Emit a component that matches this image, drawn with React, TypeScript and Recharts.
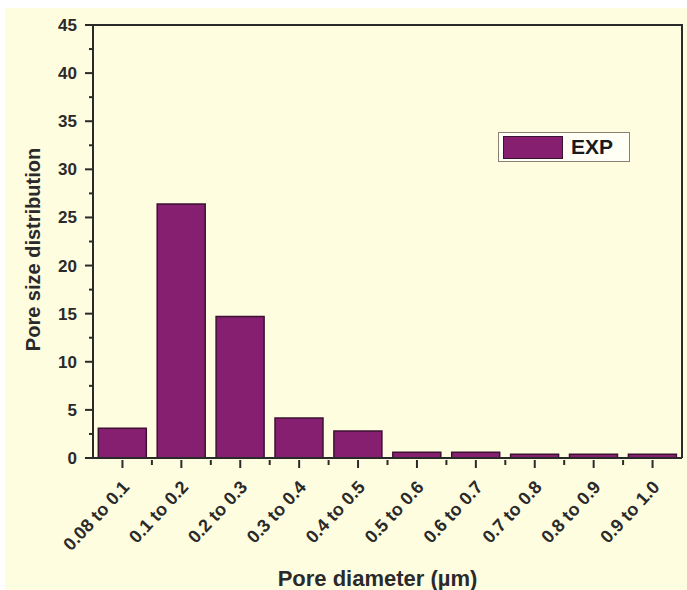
import React from "react"
import { Bar, BarChart, XAxis, YAxis } from "recharts"

const categories = [
  "0.08 to 0.1",
  "0.1 to 0.2",
  "0.2 to 0.3",
  "0.3 to 0.4",
  "0.4 to 0.5",
  "0.5 to 0.6",
  "0.6 to 0.7",
  "0.7 to 0.8",
  "0.8 to 0.9",
  "0.9 to 1.0",
]
const expValues = [3.1, 26.4, 14.7, 4.15, 2.8, 0.6, 0.6, 0.4, 0.4, 0.4]
const yTicks = [0, 2.5, 5, 7.5, 10, 12.5, 15, 17.5, 20, 22.5, 25, 27.5, 30, 32.5, 35, 37.5, 40, 42.5, 45]

const data = categories.map((name, i) => ({ name, EXP: expValues[i] }))

const W = 682
const H = 582
const M = { top: 17, right: 5, bottom: 0, left: 0 }
const X_H = 132
const Y_W = 88
const PLOT_W = W - M.left - M.right - Y_W
const PLOT_H = H - M.top - M.bottom - X_H
const BAND = PLOT_W / categories.length

const FONT = "'Liberation Sans', Arial, sans-serif"
const INK = "#2a2a2a"
const BAR_FILL = "#861f70"
const BAR_STROKE = "#3c1232"
const BG = "#fffde0"

function YTick(props: any) {
  const { x, y, payload } = props
  const major = payload.value % 5 === 0
  return (
    <g>
      <line x1={x} x2={x - (major ? 8 : 4)} y1={y} y2={y} stroke={INK} strokeWidth={2} />
      {major && (
        <text x={x - 16} y={y} dy={6} textAnchor="end" fontFamily={FONT} fontWeight="bold" fontSize={17} fill={INK}>
          {payload.value}
        </text>
      )}
    </g>
  )
}

function XTick(props: any) {
  const { x, y, payload, index } = props
  const tx = x + 8
  const ty = y + 28
  return (
    <g>
      <line x1={x} x2={x} y1={y} y2={y + 8} stroke={INK} strokeWidth={2} />
      {index < categories.length - 1 && (
        <line x1={x + BAND / 2} x2={x + BAND / 2} y1={y} y2={y + 5} stroke={INK} strokeWidth={2} />
      )}
      <text
        x={tx}
        y={ty}
        textAnchor="end"
        transform={`rotate(-47 ${tx} ${ty})`}
        fontFamily={FONT}
        fontWeight="bold"
        fontSize={18}
        fill={INK}
      >
        {payload.value}
      </text>
    </g>
  )
}

function LegendBox() {
  return (
    <div
      style={{
        position: "absolute",
        left: 493,
        top: 124,
        width: 132,
        height: 30,
        border: "1.5px solid #8a7f70",
        background: "#fffff6",
        display: "flex",
        alignItems: "center",
        boxSizing: "border-box",
        padding: "0 4px",
      }}
    >
      <div style={{ width: 58, height: 21, background: BAR_FILL, border: `1px solid ${BAR_STROKE}` }} />
      <span style={{ marginLeft: 8, fontFamily: FONT, fontWeight: "bold", fontSize: 21, color: "#1a1a1a" }}>EXP</span>
    </div>
  )
}

export default function App() {
  return (
    <div style={{ position: "fixed", left: 0, top: 0, width: 687, height: 590, background: "#ffffff" }}>
      <div style={{ position: "absolute", left: 5, top: 8, width: W, height: H, background: BG }}>
        <BarChart width={W} height={H} data={data} margin={M} barCategoryGap="9%">
          <XAxis
            dataKey="name"
            interval={0}
            tick={<XTick />}
            tickLine={false}
            tickSize={0}
            axisLine={{ stroke: INK, strokeWidth: 2 }}
            height={X_H}
            label={{
              value: "Pore diameter (µm)",
              position: "insideBottom",
              offset: 4,
              dx: -10,
              fontFamily: FONT,
              fontWeight: "bold",
              fontSize: 22,
              fill: INK,
            }}
          />
          <YAxis
            domain={[0, 45]}
            ticks={yTicks}
            interval={0}
            width={Y_W}
            tick={<YTick />}
            tickLine={false}
            tickSize={0}
            tickMargin={0}
            axisLine={{ stroke: INK, strokeWidth: 2 }}
            label={{
              value: "Pore size distribution",
              angle: -90,
              position: "insideLeft",
              offset: 28,
              dy: 8,
              style: { textAnchor: "middle" },
              fontFamily: FONT,
              fontWeight: "bold",
              fontSize: 20,
              fill: INK,
            }}
          />
          <Bar dataKey="EXP" fill={BAR_FILL} stroke={BAR_STROKE} strokeWidth={1.5} isAnimationActive={false} />
        </BarChart>
        <div
          style={{
            position: "absolute",
            left: M.left + Y_W,
            top: M.top - 1,
            width: PLOT_W + 1,
            height: PLOT_H + 1,
            borderTop: `2px solid ${INK}`,
            borderRight: `2px solid ${INK}`,
            boxSizing: "border-box",
            pointerEvents: "none",
          }}
        />
        <LegendBox />
      </div>
    </div>
  )
}
